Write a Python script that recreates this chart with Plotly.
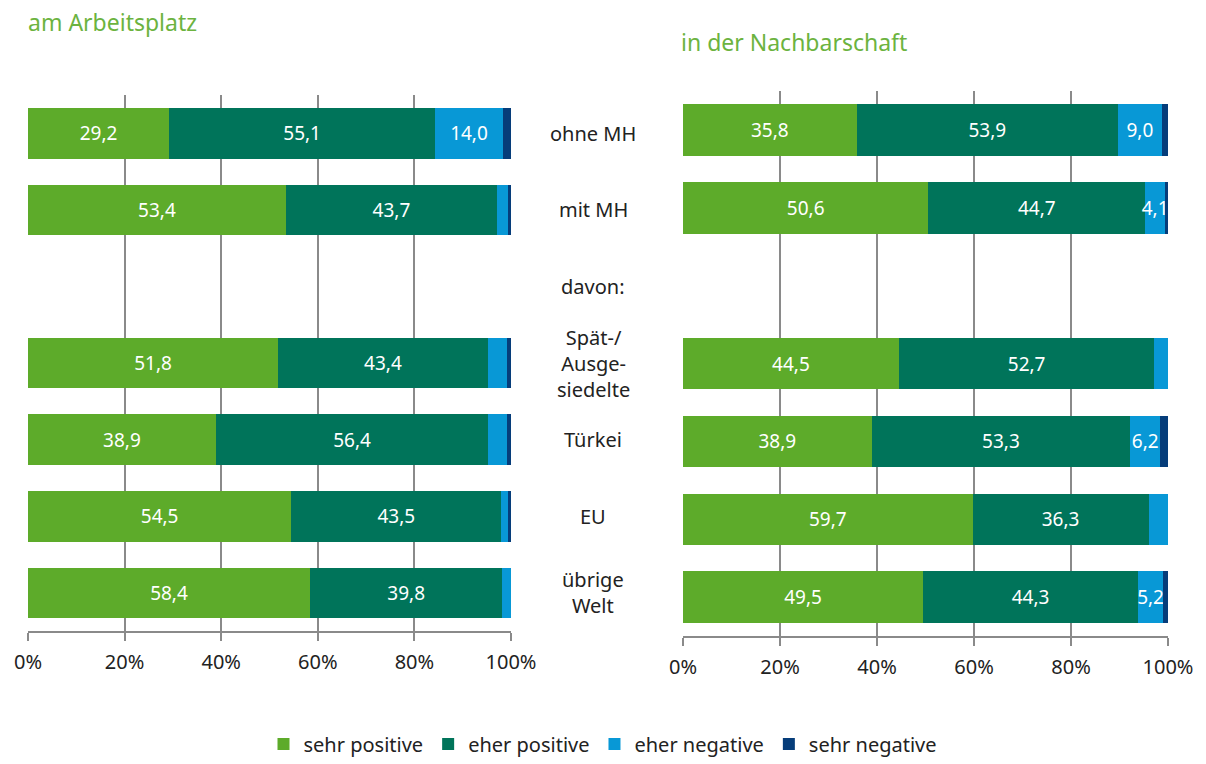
import plotly.graph_objects as go

# categories (top to bottom), "davon:" is an empty spacer row
categories = ["ohne MH", "mit MH", "davon:", "Spät-/<br>Ausge-<br>siedelte", "Türkei", "EU", "übrige<br>Welt"]
series = ["sehr positive", "eher positive", "eher negative", "sehr negative"]
colors = ["#5dab2a", "#00745a", "#0898d6", "#063d7a"]

# am Arbeitsplatz
work_sehr_pos = [29.2, 53.4, None, 51.8, 38.9, 54.5, 58.4]
work_eher_pos = [55.1, 43.7, None, 43.4, 56.4, 43.5, 39.8]
work_eher_neg = [14.0, 2.2, None, 4.0, 3.9, 1.3, 1.8]
work_sehr_neg = [1.7, 0.7, None, 0.8, 0.8, 0.7, 0.0]

# in der Nachbarschaft
hood_sehr_pos = [35.8, 50.6, None, 44.5, 38.9, 59.7, 49.5]
hood_eher_pos = [53.9, 44.7, None, 52.7, 53.3, 36.3, 44.3]
hood_eher_neg = [9.0, 4.1, None, 2.8, 6.2, 4.0, 5.2]
hood_sehr_neg = [1.3, 0.6, None, 0.0, 1.6, 0.0, 1.0]

tick_vals = [0, 20, 40, 60, 80, 100]
tick_text = ["0%", "20%", "40%", "60%", "80%", "100%"]

FONT = "Noto Sans"
W, H = 1206, 764


def label(v):
    if v is None or v < 4.1:
        return ""
    return f"{v:.1f}".replace(".", ",")


fig = go.Figure()

panels = [
    ("x", "y", [work_sehr_pos, work_eher_pos, work_eher_neg, work_sehr_neg], True),
    ("x2", "y2", [hood_sehr_pos, hood_eher_pos, hood_eher_neg, hood_sehr_neg], False),
]
for xa, ya, values, show in panels:
    for name, col, vals in zip(series, colors, values):
        fig.add_trace(go.Bar(
            y=categories, x=vals, name=name, orientation="h",
            marker=dict(color=col, line=dict(width=0)),
            text=[label(v) for v in vals], textposition="inside",
            insidetextanchor="middle", textangle=0, constraintext="none",
            textfont=dict(color="white", size=19, family=FONT),
            xaxis=xa, yaxis=ya, showlegend=show, width=0.66,
            hoverinfo="skip",
        ))

axis_x = dict(
    range=[0, 100], tickvals=tick_vals, ticktext=tick_text,
    showgrid=True, gridcolor="#8a8a8a", gridwidth=2,
    showline=True, linecolor="#8a8a8a", linewidth=2,
    ticks="outside", ticklen=8, tickcolor="#8a8a8a", tickwidth=2,
    ticklabelstandoff=4,
    tickfont=dict(size=20, color="#222", family=FONT), zeroline=False,
    fixedrange=True, automargin=False,
)
axis_y = dict(
    categoryorder="array", categoryarray=categories, autorange="reversed",
    showticklabels=False, showgrid=False, zeroline=False, showline=False,
    fixedrange=True, automargin=False,
)

fig.update_layout(
    width=W, height=H, barmode="stack", bargap=0.34,
    plot_bgcolor="white", paper_bgcolor="white",
    margin=dict(l=0, r=0, t=0, b=0, pad=0),
    font=dict(family=FONT, color="#222"),
    xaxis=dict(axis_x, domain=[28 / W, 511 / W], anchor="y"),
    yaxis=dict(axis_y, domain=[1 - 637 / H, 1 - 96 / H], anchor="x"),
    xaxis2=dict(axis_x, domain=[683 / W, 1168 / W], anchor="y2"),
    yaxis2=dict(axis_y, domain=[1 - 642 / H, 1 - 92 / H], anchor="x2"),
    legend=dict(
        orientation="h", x=603 / W, xanchor="center", y=1 - 751 / H, yanchor="middle",
        font=dict(size=20, color="#222", family=FONT), traceorder="normal",
        itemwidth=30,
    ),
)

# category labels between the panels
for cat in categories:
    fig.add_annotation(
        x=593 / W, xref="paper", y=cat, yref="y", text=cat, showarrow=False,
        font=dict(size=20, color="#222", family=FONT), align="center",
    )

fig.add_annotation(x=26 / W, y=1 - 22 / H, xref="paper", yref="paper",
                   xanchor="left", yanchor="middle",
                   text="am Arbeitsplatz", showarrow=False,
                   font=dict(size=23, color="#6cb33f", family=FONT))
fig.add_annotation(x=679 / W, y=1 - 42 / H, xref="paper", yref="paper",
                   xanchor="left", yanchor="middle",
                   text="in der Nachbarschaft", showarrow=False,
                   font=dict(size=23, color="#6cb33f", family=FONT))

# drop the default page margin so the figure sits at the window's corner
fig.write_html("out.html", config={"displayModeBar": False},
               post_script="document.body.style.margin='0';")
